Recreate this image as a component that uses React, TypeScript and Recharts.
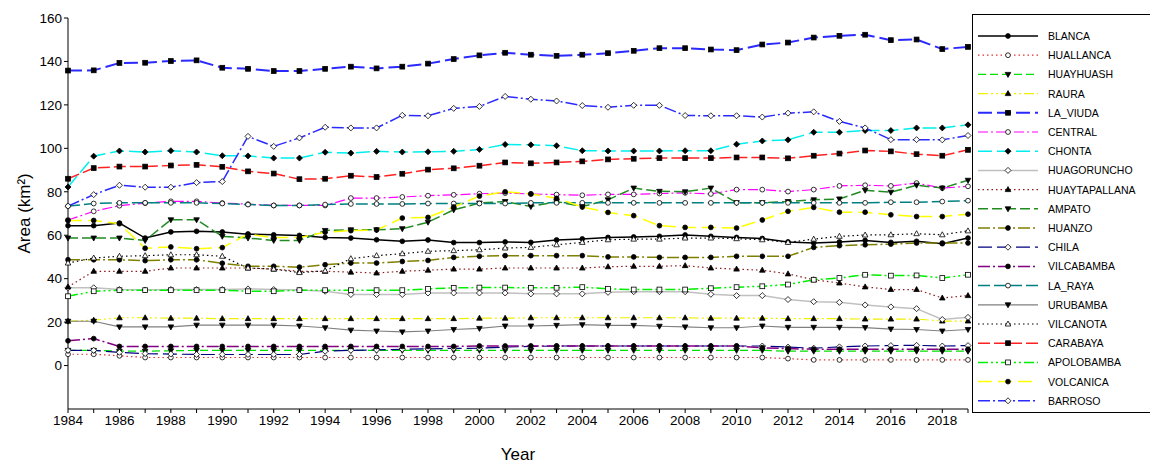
import React from 'react';
import { LineChart, Line, XAxis, YAxis } from 'recharts';

const years = Array.from({ length: 36 }, (_, i) => 1984 + i);
const xTicks = [1984,1986,1988,1990,1992,1994,1996,1998,2000,2002,2004,2006,2008,2010,2012,2014,2016,2018];
const allYears = years;
const yTicks = [0, 20, 40, 60, 80, 100, 120, 140, 160];

const BLANCA = [64.4,64.4,65.6,58.7,61.5,61.8,61.5,60.5,60.2,59.9,59,58.7,57.9,57.2,57.8,56.6,56.6,56.9,56.7,57.8,58.3,59,59.2,59.5,60.1,59.5,59,58.5,56.9,56.4,56.9,57.6,56.7,57.2,56.1,58.7];
const HUALLANCA = [5.2,5.2,4.5,3.7,3.7,3.7,3.7,3.7,3.7,3.7,3.7,3.7,3.7,3.7,3.7,3.7,3.7,3.7,3.7,3.7,3.7,3.7,3.7,3.7,3.7,3.7,3.7,3.7,3.2,2.6,2.6,2.6,2.6,2.6,2.6,2.6];
const HUAYHUASH = [7,7,6.6,6.6,6.8,7,7,7,7,7,7,7,7,7,7,7,7,7,7,7,7,7,7,7,7,7,7,7,6.6,6.6,6.6,6.6,6.6,6.6,6.6,6.6];
const RAURA = [20.4,20.9,22,22,21.8,21.8,21.6,21.6,21.6,21.6,21.6,21.6,21.6,21.6,21.6,21.6,21.8,21.8,22,22,22,22,22,22,22,21.8,21.8,21.8,21.6,21.6,21.6,21.4,21.4,21.4,20.5,20.5];
const LA_VIUDA = [135.8,135.9,139.3,139.4,140.2,140.5,137.1,136.6,135.6,135.6,136.6,137.6,136.8,137.6,139,141.1,142.8,144,143.1,142.6,143.1,143.8,144.9,146.1,146.1,145.5,145.2,147.8,148.7,151,151.8,152.3,149.8,150.1,145.7,146.7];
const CENTRAL = [67,71,73.6,74.8,75.6,75.6,74.8,74.3,73.7,73.7,73.7,77.1,77.1,77.6,78.2,78.6,79.1,79.4,79,78.7,78.4,78.8,78.8,79.2,79.5,79,81,81,80.1,81,82.7,83,82.7,84,81.7,82.5];
const CHONTA = [82.2,96.4,98.8,98.3,98.9,98.3,96.6,96.5,95.5,95.5,98.2,97.8,98.6,98.3,98.4,98.6,99.5,101.8,101.6,101.2,98.9,98.8,98.8,98.8,98.9,98.9,101.9,103.4,103.9,107.4,107.4,108.2,108.2,109.4,109.4,110.8];
const HUAGORUNCHO = [35.8,35.8,35,34.8,35,35,35,35.3,35,34.8,34.2,32.7,32.7,32.7,33.4,33.4,33.4,33.4,33,33,33,33.7,34,34,34,32.8,32.2,32.2,30.4,29.4,29.1,27.9,27,26.2,21.2,22.2];
const HUAYTAPALLANA = [36.2,43.4,43.4,43.4,44.9,44.9,44.9,44.9,44.4,43.4,43.4,43,42.6,43.4,43.9,44.4,44.4,44.9,44.9,44.9,44.9,45.5,45.7,45.7,46,44.9,44.4,43.9,42.2,39.5,38,36.2,35,35,31.1,32.2];
const AMPATO = [58.7,58.7,58.7,57.6,67.1,67.1,59.5,58.7,57.6,57.6,62.2,62.5,62.5,63,66,71.7,74.8,75.5,73.2,75.5,73.2,76.3,81.7,80.2,80,81.7,75,75,75.5,76.3,76.7,80.7,79.8,83,81.7,85.3];
const HUANZO = [48.7,48.7,48.7,48.3,48.7,48.7,47.1,45.7,45.7,45.3,46.4,47.2,47.2,47.9,48.4,49.8,50.3,50.6,50.6,50.6,50.6,50,50,49.8,49.8,49.8,50.3,50.3,50.3,54.4,55.2,55.6,55.9,56.4,56.4,56.4];
const CHILA = [7,7,6.1,5.5,5.3,5.1,5.1,5.1,5.1,5.1,6.6,7,7.2,7.5,7.7,7.9,8,8.5,8.8,9,9,9,9,9,9,9,9,9,8.5,8,8.6,9,9.2,9.3,9,9.2];
const VILCABAMBA = [11.4,12.4,8.8,8.8,8.8,8.8,8.8,8.8,8.8,8.8,8.8,8.8,8.8,8.8,8.8,8.8,9,9,9,9,9,9,9,9,9,9,9,8.2,7.8,7.5,7.5,7.5,7.5,7.5,7.5,7.5];
const LA_RAYA = [73.4,74.6,74.9,74.9,74.9,74.9,74.6,74.1,73.7,73.7,74.1,74.4,74.4,74.4,74.6,74.6,74.6,74.6,74.9,74.9,74.9,74.9,74.9,74.9,74.9,74.9,74.9,74.9,74.9,74.9,74.9,74.9,75.2,75.2,75.5,75.9];
const URUBAMBA = [20.4,20.4,17.8,17.8,17.8,18.6,18.6,18.6,18.6,18.2,17.4,16.3,15.9,15.5,15.9,16.6,17.1,18.2,18.2,18.5,18.8,18.5,18.5,18.1,17.8,17.4,17.4,18.2,17.6,17.6,17.6,17.5,16.8,16.6,15.9,16.6];
const VILCANOTA = [47.2,49.5,50.3,50.6,51,51,50.3,44.9,44.4,42.8,43.6,49.2,50.6,51.5,52.6,52.9,53.3,54.1,54.4,55.6,56.7,57.9,58.2,58.2,58.7,58.7,58.4,57.9,56.7,58.2,59.5,60.1,60.2,60.7,60.2,62];
const CARABAYA = [86,90.9,91.6,91.6,92.1,92.4,91.5,89.4,88.4,85.8,86,87.4,86.8,88.3,90.2,90.8,92,93.5,93.1,93.5,94,94.9,95.2,95.5,95.5,95.5,95.8,95.8,95.4,96.6,97.6,99,98.6,97.3,96.6,99.3];
const APOLOBAMBA = [31.9,34.2,34.7,34.7,34.7,34.7,34.7,34.2,34.2,34.7,34.7,34.7,34.7,34.7,35.3,35.8,35.9,35.9,35.8,35.8,36.1,35.3,35,35,35,35.6,36.1,36.5,37.3,39.5,40.3,41.8,41.4,41.5,40.3,41.8];
const VOLCANICA = [66.8,66.8,65.3,54,54.6,53.8,54.3,60.5,58.9,58.9,61.4,62.1,62.4,67.9,68.2,73,78,80,79,77,73,70.5,69,64.4,63.6,63.6,63.3,67,71,72.8,70.6,70.6,69.4,68.6,68.6,69.7];
const BARROSO = [73.4,78.7,83,82.1,82.1,84.2,84.7,105.5,100.9,104.8,109.7,109.4,109.4,115.2,115,118.4,119.3,123.9,122.6,121.8,119.7,118.9,119.8,119.8,115.1,115,115,114.4,116.2,116.8,112.4,109.4,104,104,103.9,105.9];

type S = { name: string; data: number[]; color: string; dash: string; marker: string; fill: boolean; width?: number };
const series: S[] = [
  { name: 'BLANCA', data: BLANCA, color: '#000000', dash: '', marker: 'circle', fill: true, width: 1.5 },
  { name: 'HUALLANCA', data: HUALLANCA, color: '#dd3030', dash: '1.5 3', marker: 'circle', fill: false },
  { name: 'HUAYHUASH', data: HUAYHUASH, color: '#00e000', dash: '8 4', marker: 'tdown', fill: true },
  { name: 'RAURA', data: RAURA, color: '#f0f000', dash: '10 3 2 3 2 3', marker: 'tup', fill: true },
  { name: 'LA_VIUDA', data: LA_VIUDA, color: '#2a2aff', dash: '14 5', marker: 'square', fill: true, width: 2 },
  { name: 'CENTRAL', data: CENTRAL, color: '#ff00ff', dash: '10 3 2 3', marker: 'circle', fill: false },
  { name: 'CHONTA', data: CHONTA, color: '#00eeee', dash: '14 5', marker: 'diamond', fill: true, width: 1.5 },
  { name: 'HUAGORUNCHO', data: HUAGORUNCHO, color: '#c0c0c0', dash: '', marker: 'diamond', fill: false, width: 1.5 },
  { name: 'HUAYTAPALLANA', data: HUAYTAPALLANA, color: '#8b1a1a', dash: '1.5 3', marker: 'tup', fill: true },
  { name: 'AMPATO', data: AMPATO, color: '#228b22', dash: '10 4', marker: 'tdown', fill: true, width: 1.5 },
  { name: 'HUANZO', data: HUANZO, color: '#808000', dash: '12 3 2 3', marker: 'circle', fill: true, width: 1.5 },
  { name: 'CHILA', data: CHILA, color: '#000080', dash: '14 5', marker: 'diamond', fill: false },
  { name: 'VILCABAMBA', data: VILCABAMBA, color: '#800080', dash: '12 3 2 3', marker: 'circle', fill: true, width: 1.5 },
  { name: 'LA_RAYA', data: LA_RAYA, color: '#008080', dash: '12 4', marker: 'circle', fill: false, width: 1.5 },
  { name: 'URUBAMBA', data: URUBAMBA, color: '#808080', dash: '', marker: 'tdown', fill: true },
  { name: 'VILCANOTA', data: VILCANOTA, color: '#000000', dash: '1.5 3', marker: 'tup', fill: false },
  { name: 'CARABAYA', data: CARABAYA, color: '#ff2020', dash: '12 4', marker: 'square', fill: true, width: 1.5 },
  { name: 'APOLOBAMBA', data: APOLOBAMBA, color: '#00ee00', dash: '10 3 2 3 2 3', marker: 'square', fill: false, width: 1.5 },
  { name: 'VOLCANICA', data: VOLCANICA, color: '#ffff00', dash: '14 6', marker: 'circle', fill: true, width: 1.5 },
  { name: 'BARROSO', data: BARROSO, color: '#2a2aff', dash: '12 3 2 3', marker: 'diamond', fill: false, width: 1.5 },
];

const rows = years.map((y, i) => {
  const r: any = { year: y };
  series.forEach(s => { r[s.name] = s.data[i]; });
  return r;
});

function Marker({ cx, cy, kind, fill }: { cx: number; cy: number; kind: string; fill: boolean }) {
  const f = fill ? '#000' : '#fff';
  const st = { fill: f, stroke: '#000', strokeWidth: 0.8 };
  const r = 2.4;
  if (kind === 'square') return <rect x={cx - r} y={cy - r} width={2 * r} height={2 * r} {...st} />;
  if (kind === 'diamond') return <polygon points={`${cx},${cy - 3} ${cx + 3},${cy} ${cx},${cy + 3} ${cx - 3},${cy}`} {...st} />;
  if (kind === 'tup') return <polygon points={`${cx},${cy - 3} ${cx + 2.8},${cy + 2} ${cx - 2.8},${cy + 2}`} {...st} />;
  if (kind === 'tdown') return <polygon points={`${cx},${cy + 3} ${cx + 2.8},${cy - 2} ${cx - 2.8},${cy - 2}`} {...st} />;
  return <circle cx={cx} cy={cy} r={r} {...st} />;
}

const font = '"Liberation Sans", Arial, sans-serif';

export default function App() {
  return (
    <div style={{ position: 'relative', width: 1150, height: 460, fontFamily: font }}>
      <LineChart width={1150} height={460} data={rows} margin={{ top: 10, right: 190, left: 0, bottom: 0 }}>
        <XAxis dataKey="year" type="number" domain={[1984, 2019]} ticks={allYears}
          tickFormatter={(v: number) => (xTicks.includes(v) ? String(v) : '')}
          tick={{ fill: '#000', fontSize: 13.5, fontFamily: font }} tickSize={4}
          axisLine={{ stroke: '#000' }} tickLine={{ stroke: '#000' }} height={59}
          label={{ value: 'Year', position: 'insideBottom', offset: 8, fontSize: 17, fill: '#000', fontFamily: font }} />
        <XAxis xAxisId="top" orientation="top" dataKey="year" type="number" domain={[1984, 2019]} ticks={allYears}
          tick={false} tickSize={4} height={0} axisLine={{ stroke: '#000' }} tickLine={{ stroke: '#000' }} />
        <YAxis domain={[-20, 160]} ticks={yTicks} width={60} interval={0}
          tick={{ fill: '#000', fontSize: 13.5, fontFamily: font }} tickSize={4}
          axisLine={{ stroke: '#000' }} tickLine={{ stroke: '#000' }}
          label={{ value: 'Area (km²)', angle: -90, position: 'insideLeft', offset: 16, dy: 40, fontSize: 17, fill: '#000', fontFamily: font }} />
        <YAxis yAxisId="right" orientation="right" domain={[-20, 160]} tick={false} width={0} axisLine={{ stroke: '#000' }} tickLine={false} />
        {series.map(s => (
          <Line key={s.name} dataKey={s.name} stroke={s.color} strokeWidth={s.width ?? 1.2}
            strokeDasharray={s.dash || undefined} isAnimationActive={false}
            dot={(p: any) => <Marker key={s.name + p.index} cx={p.cx} cy={p.cy} kind={s.marker} fill={s.fill} />} />
        ))}
      </LineChart>
      <svg style={{ position: 'absolute', left: 964, top: 6 }} width={180} height={400}>
        <rect x={0.5} y={0.5} width={178} height={398} fill="none" stroke="#000" />
        {series.map((s, i) => {
          const y = 22 + i * 19.2;
          return (
            <g key={s.name}>
              <line x1={6} x2={66} y1={y} y2={y} stroke={s.color} strokeWidth={s.width ?? 1.2} strokeDasharray={s.dash || undefined} />
              <Marker cx={36} cy={y} kind={s.marker} fill={s.fill} />
              <text x={76} y={y + 4} fontSize={10.5} fontFamily={font} fill="#000">{s.name}</text>
            </g>
          );
        })}
      </svg>
    </div>
  );
}
